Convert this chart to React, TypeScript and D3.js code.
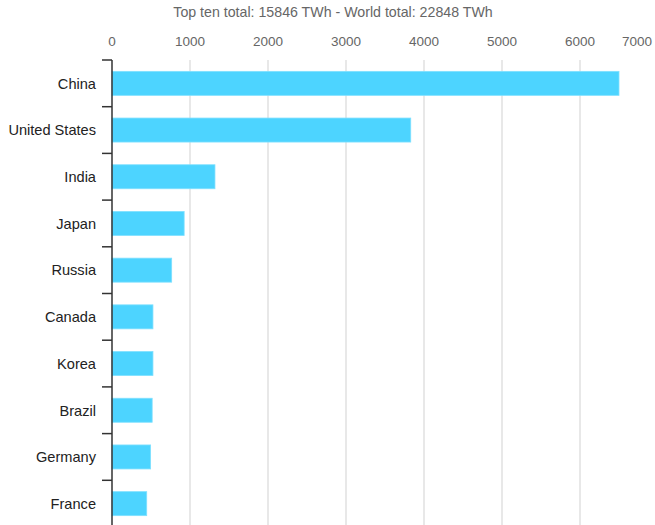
import React from "react";
import * as d3 from "d3";

const countries = ["China", "United States", "India", "Japan", "Russia", "Canada", "Korea", "Brazil", "Germany", "France"];
const values = [6500, 3830, 1320, 925, 765, 525, 525, 515, 495, 445];
const tickValues = [0, 1000, 2000, 3000, 4000, 5000, 6000, 7000];
const titleText = "Top ten total: 15846 TWh - World total: 22848 TWh";

const W = 655;
const H = 525;

export default function App() {
  const x = d3.scaleLinear().domain([0, 7000]).range([112, 658]);
  const y = d3.scaleBand<string>().domain(countries).range([60, 527]).paddingInner(0.486).paddingOuter(0.243);
  const step = y.step();
  const font = "'Liberation Sans', Arial, sans-serif";
  return (
    <svg width={W} height={H} style={{ position: "absolute", left: 0, top: 0, background: "#fff" }} fontFamily={font}>
      <text x={333} y={17} textAnchor="middle" fontSize={14.2} fill="#666">{titleText}</text>
      {tickValues.map((t) => {
        const px = Math.min(x(t), W - 18);
        return (
          <text key={"l" + t} x={px} y={46} textAnchor="middle" fontSize={13.5} fill="#666">{t}</text>
        );
      })}
      {tickValues.filter((t) => t > 0).map((t) => (
        <line key={"g" + t} x1={x(t)} x2={x(t)} y1={60} y2={H} stroke="#e8e8e8" strokeWidth={2} />
      ))}
      {countries.map((c, i) => (
        <rect key={c} x={x(0)} y={y(c)!} width={x(values[i]) - x(0)} height={y.bandwidth()} fill="#4dd4ff" stroke="#7fe0ff" strokeWidth={0.8} />
      ))}
      <line x1={x(0)} x2={x(0)} y1={60} y2={H} stroke="#333" strokeWidth={1.5} />
      {d3.range(countries.length + 1).map((i) => (
        <line key={"t" + i} x1={102} x2={x(0)} y1={60 + i * step} y2={60 + i * step} stroke="#333" strokeWidth={1.5} />
      ))}
      {countries.map((c) => (
        <text key={"c" + c} x={96} y={y(c)! + y.bandwidth() / 2} dy="0.36em" textAnchor="end" fontSize={14.6} fill="#222">{c}</text>
      ))}
    </svg>
  );
}
